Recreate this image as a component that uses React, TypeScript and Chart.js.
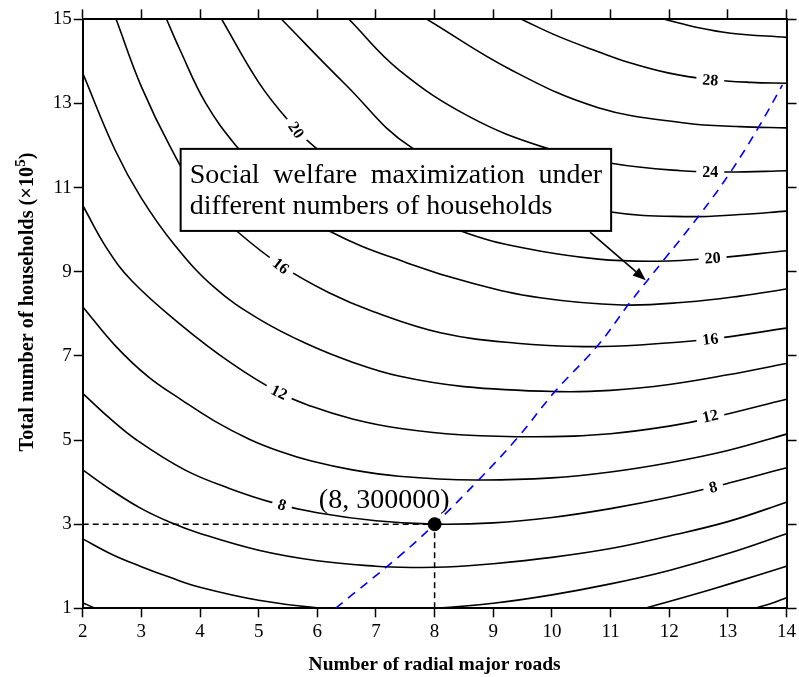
import React, { useEffect, useRef } from 'react';
import { Chart, registerables } from 'chart.js';

Chart.register(...registerables);

const FONT = '"Liberation Serif", "Times New Roman", Times, serif';

// ---- Axis ranges / ticks ----
const xRange: [number, number] = [2, 14];
const yRange: [number, number] = [1, 15];
const xStep = 1;
const yStep = 2;

// ---- Contour lines (x = radial roads, y = households ×10^5) ----
const contour00: [number, number][] = [[13.1, 0.85], [13.45, 1.0], [13.75, 1.12], [14, 1.25]];
const contour02a: [number, number][] = [[2, 1.13], [2.22, 1.0], [2.5, 0.86]];
const contour02b: [number, number][] = [[11.2, 0.86], [11.58, 1.0], [12.3, 1.28], [13.1, 1.61], [14, 2.0]];
const contour04: [number, number][] = [[2, 2.65], [2.5, 2.28], [3, 1.99], [3.5, 1.73], [4, 1.5], [5, 1.19], [6, 1.01], [7, 0.95], [8, 1.0], [9, 1.12], [10, 1.32], [11, 1.58], [12, 1.9], [13, 2.3], [14, 2.77]];
const contour06: [number, number][] = [[2, 4.29], [2.5, 3.8], [3, 3.37], [3.5, 3.04], [4, 2.78], [5, 2.38], [6, 2.13], [7, 2.0], [7.6, 1.97], [8.2, 1.98], [9, 2.06], [10, 2.21], [11, 2.42], [12, 2.72], [13, 3.06], [14, 3.52]];
const contour08: [number, number][] = [[2, 6.11], [2.45, 5.53], [2.92, 5.0], [3.74, 4.29], [4.5, 3.85], [5.27, 3.5], [6, 3.27], [7, 3.08], [8, 3.0], [9, 3.03], [10, 3.16], [11, 3.37], [12, 3.64], [13, 3.97], [14, 4.34]];
const contour10: [number, number][] = [[2, 8.17], [2.55, 7.25], [3.12, 6.5], [3.69, 5.95], [4.25, 5.45], [4.84, 5.02], [5.38, 4.72], [5.9, 4.5], [6.6, 4.29], [7.39, 4.14], [8.7, 4.05], [10, 4.1], [11, 4.24], [12, 4.46], [13, 4.75], [14, 5.14]];
const contour12: [number, number][] = [[2, 10.58], [2.4, 9.58], [2.84, 8.78], [3.69, 7.72], [4.54, 6.82], [5.33, 6.14], [5.9, 5.8], [6.6, 5.5], [7.39, 5.28], [8.5, 5.12], [10, 5.08], [11, 5.15], [12, 5.33], [12.7, 5.52], [14, 5.97]];
const contour14: [number, number][] = [[2, 13.72], [2.55, 11.9], [3.0, 10.75], [3.57, 9.63], [4.25, 8.62], [5.0, 7.88], [5.83, 7.28], [6.6, 6.85], [7.39, 6.52], [8.5, 6.27], [10.1, 6.15], [11, 6.18], [12, 6.32], [13, 6.55], [14, 6.82]];
const contour16: [number, number][] = [[2.57, 15], [3.0, 13.4], [3.5, 11.95], [4.0, 10.8], [4.64, 9.95], [5.38, 9.15], [6.2, 8.5], [6.96, 8.05], [8.1, 7.55], [9.4, 7.3], [10.56, 7.22], [11.5, 7.26], [12.7, 7.4], [14, 7.66]];
const contour18: [number, number][] = [[3.43, 15], [3.65, 14.3], [4.1, 13.0], [4.64, 11.95], [5.4, 10.75], [6.23, 9.95], [7.53, 9.21], [8.66, 8.72], [9.8, 8.38], [11.2, 8.21], [12.3, 8.28], [13.2, 8.42], [14, 8.59]];
const contour20: [number, number][] = [[4.37, 15], [5.0, 13.5], [5.52, 12.57], [5.97, 11.95], [7.2, 10.75], [8.46, 9.96], [9.5, 9.57], [10.79, 9.3], [11.8, 9.25], [12.74, 9.32], [14, 9.5]];
const contour22: [number, number][] = [[5.39, 15], [6.48, 13.45], [7.61, 11.95], [9.3, 10.95], [11.01, 10.42], [12.3, 10.31], [13.2, 10.36], [14, 10.44]];
const contour24: [number, number][] = [[6.54, 15], [7.39, 13.8], [8.6, 12.68], [9.88, 11.95], [11.01, 11.58], [12.2, 11.4], [13, 11.37], [14, 11.4]];
const contour26: [number, number][] = [[7.87, 15], [9.3, 13.8], [10.79, 12.9], [12.3, 12.53], [13.2, 12.45], [14, 12.42]];
const contour28: [number, number][] = [[9.48, 15], [10.1, 14.6], [10.79, 14.23], [11.3, 13.98], [12, 13.72], [12.7, 13.57], [13.4, 13.5], [14, 13.48]];
const contour30: [number, number][] = [[11.92, 15], [12.5, 14.8], [13.05, 14.67], [14, 14.57]];

const contours = [contour00, contour02a, contour02b, contour04, contour06, contour08, contour10, contour12, contour14, contour16, contour18, contour20, contour22, contour24, contour26, contour28, contour30];

// ---- Optimal path (blue dashed) ----
const optimalPath: [number, number][] = [[6.31, 1], [7.39, 2.23], [8, 3], [8.75, 4.05], [9.43, 5.08], [10.05, 6.15], [10.79, 7.26], [11.32, 8.25], [11.92, 9.3], [12.54, 10.39], [13.05, 11.38], [13.53, 12.45], [13.93, 13.44]];

// ---- Highlighted optimum ----
const optimum: [number, number] = [8, 3];
const optimumText = '(8, 300000)';

// ---- Contour labels: text, anchor (data units) ----
const labelTexts = ['8', '12', '16', '20', '28', '24', '20', '16', '12', '8'];
const labelX = [5.4, 5.35, 5.38, 5.64, 12.7, 12.7, 12.74, 12.7, 12.7, 12.75];
const labelY = [3.46, 6.14, 9.14, 12.37, 13.56, 11.37, 9.33, 7.4, 5.57, 3.88];
const labelAngles = [17, 26, 38, 55, 4, 0, -4, -7, -12, -14];

// ---- Annotation ----
const noteLine1 = 'Social welfare maximization under';
const noteLine2 = 'different numbers of households';
const noteBox = { x0: 3.67, x1: 11.01, y0: 9.97, y1: 11.92 };
const noteArrow = { x0: 10.65, y0: 9.94, x1: 11.6, y1: 8.8 };
const optimumTextAnchor = { x: 7.14, y: 3.38 };

const xTitle = 'Number of radial major roads';
const yTitleMain = 'Total number of households (\u00d710';
const yTitleSup = '5';
const yTitleEnd = ')';

const toXY = (pts: [number, number][]) => pts.map(([x, y]) => ({ x, y }));

const overlayPlugin = {
  id: 'overlay',
  afterDatasetsDraw(chart: any) {
    const { ctx, scales } = chart;
    const xs = scales.x;
    const ys = scales.y;
    const px = (v: number) => xs.getPixelForValue(v);
    const py = (v: number) => ys.getPixelForValue(v);
    ctx.save();

    // contour labels
    ctx.font = `bold 16px ${FONT}`;
    ctx.textAlign = 'center';
    ctx.textBaseline = 'middle';
    labelTexts.forEach((t, i) => {
      ctx.save();
      ctx.translate(px(labelX[i]), py(labelY[i]));
      ctx.rotate((labelAngles[i] * Math.PI) / 180);
      const w = ctx.measureText(t).width;
      ctx.fillStyle = '#fff';
      ctx.fillRect(-w / 2 - 6, -7, w + 12, 14);
      ctx.fillStyle = '#000';
      ctx.fillText(t, 0, 1);
      ctx.restore();
    });

    // annotation box
    const bl = px(noteBox.x0), br = px(noteBox.x1), bt = py(noteBox.y1), bb = py(noteBox.y0);
    ctx.fillStyle = '#fff';
    ctx.fillRect(bl, bt, br - bl, bb - bt);
    ctx.lineWidth = 2;
    ctx.strokeStyle = '#000';
    ctx.strokeRect(bl, bt, br - bl, bb - bt);
    ctx.fillStyle = '#000';
    ctx.font = `28px ${FONT}`;
    ctx.textAlign = 'left';
    ctx.textBaseline = 'alphabetic';
    const words = noteLine1.split(' ');
    const widths = words.map((w) => ctx.measureText(w).width);
    const innerL = bl + 9, innerR = br - 9;
    const gap = (innerR - innerL - widths.reduce((a, b) => a + b, 0)) / (words.length - 1);
    let cx = innerL;
    words.forEach((w, i) => {
      ctx.fillText(w, cx, bt + 34);
      cx += widths[i] + gap;
    });
    ctx.fillText(noteLine2, innerL, bt + 65);

    // arrow
    const ax0 = px(noteArrow.x0), ay0 = py(noteArrow.y0), ax1 = px(noteArrow.x1), ay1 = py(noteArrow.y1);
    const ang = Math.atan2(ay1 - ay0, ax1 - ax0);
    const hl = 13, hw = 5;
    ctx.beginPath();
    ctx.moveTo(ax0, ay0);
    ctx.lineTo(ax1 - hl * Math.cos(ang), ay1 - hl * Math.sin(ang));
    ctx.lineWidth = 1.6;
    ctx.stroke();
    ctx.beginPath();
    ctx.moveTo(ax1, ay1);
    ctx.lineTo(ax1 - hl * Math.cos(ang) + hw * Math.sin(ang), ay1 - hl * Math.sin(ang) - hw * Math.cos(ang));
    ctx.lineTo(ax1 - hl * Math.cos(ang) - hw * Math.sin(ang), ay1 - hl * Math.sin(ang) + hw * Math.cos(ang));
    ctx.closePath();
    ctx.fill();

    // optimum text
    ctx.font = `28px ${FONT}`;
    ctx.textAlign = 'center';
    ctx.fillText(optimumText, px(optimumTextAnchor.x), py(optimumTextAnchor.y));
    ctx.restore();
  },
  afterDraw(chart: any) {
    const { ctx, chartArea } = chart;
    ctx.save();
    ctx.fillStyle = '#000';
    ctx.font = `bold 19.5px ${FONT}`;
    ctx.textAlign = 'center';
    ctx.textBaseline = 'alphabetic';
    ctx.fillText(xTitle, (chartArea.left + chartArea.right) / 2, 670);

    // y title with superscript
    ctx.translate(33, 302);
    ctx.rotate(-Math.PI / 2);
    ctx.textAlign = 'left';
    const mainFont = `bold 20.3px ${FONT}`;
    const supFont = `bold 15px ${FONT}`;
    ctx.font = mainFont;
    const w1 = ctx.measureText(yTitleMain).width;
    const w3 = ctx.measureText(yTitleEnd).width;
    ctx.font = supFont;
    const w2 = ctx.measureText(yTitleSup).width;
    let sx = -(w1 + w2 + w3) / 2;
    ctx.font = mainFont;
    ctx.fillText(yTitleMain, sx, 0);
    sx += w1;
    ctx.font = supFont;
    ctx.fillText(yTitleSup, sx, -8);
    sx += w2;
    ctx.font = mainFont;
    ctx.fillText(yTitleEnd, sx, 0);
    ctx.restore();
  },
};

export default function App() {
  const ref = useRef<HTMLCanvasElement>(null);
  useEffect(() => {
    document.body.style.margin = '0';
    const contourSets = contours.map((c) => ({
      type: 'line' as const,
      data: toXY(c),
      borderColor: '#000',
      borderWidth: 1.6,
      pointRadius: 0,
      fill: false,
      tension: 0.4,
      order: 5,
    }));
    const [ox, oy] = optimum;
    const chart = new Chart(ref.current as HTMLCanvasElement, {
      type: 'line',
      data: {
        datasets: [
          {
            data: [{ x: ox, y: oy }],
            showLine: false,
            pointRadius: 6.5,
            pointBackgroundColor: '#000',
            pointBorderColor: '#000',
            order: 0,
          } as any,
          {
            data: toXY(optimalPath),
            borderColor: '#0000ff',
            borderWidth: 1.6,
            borderDash: [9, 7],
            pointRadius: 0,
            tension: 0.4,
            order: 1,
          },
          {
            data: [{ x: xRange[0], y: oy }, { x: ox, y: oy }],
            borderColor: '#000',
            borderWidth: 1.5,
            borderDash: [6, 4],
            pointRadius: 0,
            tension: 0,
            order: 2,
          },
          {
            data: [{ x: ox, y: yRange[0] }, { x: ox, y: oy }],
            borderColor: '#000',
            borderWidth: 1.5,
            borderDash: [6, 4],
            pointRadius: 0,
            tension: 0,
            order: 2,
          },
          ...contourSets,
        ] as any,
      },
      options: {
        responsive: false,
        animation: false,
        events: [],
        layout: { padding: 0 },
        plugins: { legend: { display: false }, tooltip: { enabled: false }, title: { display: false } },
        scales: {
          x: {
            type: 'linear',
            position: 'bottom',
            min: xRange[0],
            max: xRange[1],
            ticks: { stepSize: xStep, color: '#000', font: { family: FONT, size: 19 }, padding: 3, maxRotation: 0, autoSkip: false },
            grid: { drawOnChartArea: false, drawTicks: true, tickLength: 9, tickColor: '#000', tickWidth: 1.5, color: '#000' },
            border: { display: true, color: '#000', width: 2 },
            afterFit: (s: any) => { s.height = 68.7; },
          },
          x2: {
            type: 'linear',
            position: 'top',
            min: xRange[0],
            max: xRange[1],
            ticks: { stepSize: xStep, display: false },
            grid: { drawOnChartArea: false, drawTicks: true, tickLength: 10, tickColor: '#000', tickWidth: 1.5, color: '#000' },
            border: { display: true, color: '#000', width: 2 },
            afterFit: (s: any) => { s.height = 19.3; },
          },
          y: {
            type: 'linear',
            position: 'left',
            min: yRange[0],
            max: yRange[1],
            ticks: { stepSize: yStep, color: '#000', font: { family: FONT, size: 19 }, padding: 2 },
            grid: { drawOnChartArea: false, drawTicks: true, tickLength: 9, tickColor: '#000', tickWidth: 1.5, color: '#000' },
            border: { display: true, color: '#000', width: 2 },
            afterFit: (s: any) => { s.width = 82.7; },
          },
          y2: {
            type: 'linear',
            position: 'right',
            min: yRange[0],
            max: yRange[1],
            ticks: { stepSize: yStep, display: false },
            grid: { drawOnChartArea: false, drawTicks: true, tickLength: 10, tickColor: '#000', tickWidth: 1.5, color: '#000' },
            border: { display: true, color: '#000', width: 2 },
            afterFit: (s: any) => { s.width = 9.7; },
          },
        },
      } as any,
      plugins: [overlayPlugin],
    });
    return () => chart.destroy();
  }, []);
  return (
    <div style={{ position: 'absolute', left: 0, top: 0, width: 799, height: 677, background: '#fff' }}>
      <canvas ref={ref} width={799} height={677} style={{ display: 'block', width: 799, height: 677 }} />
    </div>
  );
}
